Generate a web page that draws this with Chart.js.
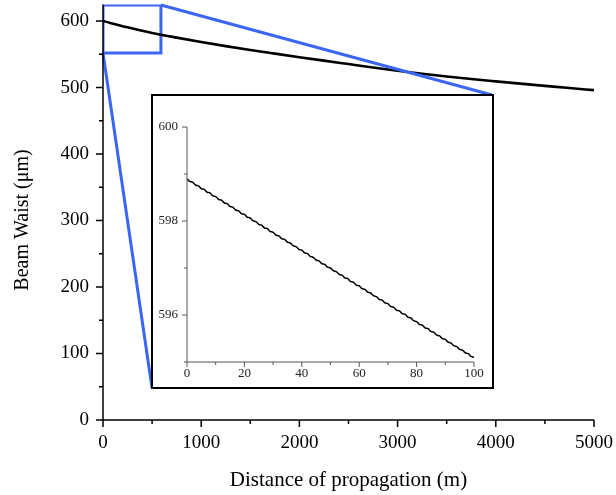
<!DOCTYPE html>
<html><head><meta charset="utf-8">
<script src="https://cdn.jsdelivr.net/npm/chart.js@4/dist/chart.umd.min.js"></script>
<style>
html,body{margin:0;padding:0;background:#fff;}
#wrap{position:relative;width:616px;height:495px;overflow:hidden;}
#main{position:absolute;left:0;top:0;}
#inset{position:absolute;left:151px;top:94px;}
</style></head><body>
<div id="wrap"><canvas id="main" width="616" height="495"></canvas><canvas id="inset" width="343" height="295"></canvas></div>
<script>
// ---- main curve ----
const distance = [0,250,500,750,1000,1250,1500,1750,2000,2250,2500,2750,3000,3250,3500,3750,4000,4250,4500,4750,5000];
const beamWaist = [600,590.5,582,575,568.5,562.3,556.5,551,545.6,540.4,535.3,530.2,525.2,520.6,516.5,512.7,509.2,505.8,502.5,499.2,496];
// ---- zoom box (data units) ----
const zoomBoxX = [0, 590];
const zoomBoxY = [552, 624];
// ---- main ticks ----
const mainXMajor = [0,1000,2000,3000,4000,5000];
const mainXMinor = [500,1500,2500,3500,4500];
const mainYMajor = [0,100,200,300,400,500,600];
const mainYMinor = [50,150,250,350,450,550];
// ---- inset curve ----
const insetDistance = [0,1,2,3,4,5,6,7,8,9,10,11,12,13,14,15,16,17,18,19,20,21,22,23,24,25,26,27,28,29,30,31,32,33,34,35,36,37,38,39,40,41,42,43,44,45,46,47,48,49,50,51,52,53,54,55,56,57,58,59,60,61,62,63,64,65,66,67,68,69,70,71,72,73,74,75,76,77,78,79,80,81,82,83,84,85,86,87,88,89,90,91,92,93,94,95,96,97,98,99,100];
const insetWaist = [598.900,598.842,598.824,598.766,598.748,598.690,598.672,598.614,598.596,598.538,
598.520,598.462,598.444,598.386,598.368,598.310,598.292,598.234,598.216,598.158,
598.140,598.082,598.064,598.006,597.988,597.930,597.912,597.854,597.836,597.778,
597.760,597.702,597.684,597.626,597.608,597.550,597.532,597.474,597.456,597.398,
597.380,597.322,597.304,597.246,597.228,597.170,597.152,597.094,597.076,597.018,
597.000,596.942,596.924,596.866,596.848,596.790,596.772,596.714,596.696,596.638,
596.620,596.562,596.544,596.486,596.468,596.410,596.392,596.334,596.316,596.258,
596.240,596.182,596.164,596.106,596.088,596.030,596.012,595.954,595.936,595.878,
595.860,595.802,595.784,595.726,595.708,595.650,595.632,595.574,595.556,595.498,
595.480,595.422,595.404,595.346,595.328,595.270,595.252,595.194,595.176,595.118,
595.100];
const insetXMajor = [0,20,40,60,80,100];
const insetXMinor = [10,30,50,70,90];
const insetYMajor = [596,598,600];
const insetYMinor = [595,597,599];

const xTitle = 'Distance of propagation (m)';
const yTitle = 'Beam Waist (\u03bcm)';
const SERIF = "'Liberation Serif', 'Times New Roman', serif";
const BLUE = '#3b66f4';
// inset frame corners in page pixels
const INSET_LEFT = 152, INSET_TOP = 95, INSET_RIGHT = 492, INSET_BOTTOM = 388;

function setTicks(major, minor){
  return function(scale){
    scale.ticks = major.concat(minor).sort((a,b)=>a-b).map(v=>({value:v}));
  };
}
function axisPlugin(cfg){
  return {
    id:'axes'+cfg.name,
    afterDraw(chart){
      const {ctx, chartArea:a, scales} = chart;
      const xs = scales.x, ys = scales.y;
      ctx.save();
      ctx.strokeStyle = cfg.color; ctx.lineWidth = cfg.width; ctx.lineCap='butt';
      ctx.beginPath();
      ctx.moveTo(a.left, a.top); ctx.lineTo(a.left, a.bottom + (cfg.cross?cfg.major:0));
      ctx.moveTo(a.left - (cfg.cross?cfg.major:0), a.bottom); ctx.lineTo(a.right, a.bottom);
      xs.ticks.forEach(t=>{
        const p = xs.getPixelForValue(t.value);
        const L = cfg.xMajor.includes(t.value) ? cfg.major : cfg.minor;
        ctx.moveTo(p, a.bottom); ctx.lineTo(p, a.bottom + L);
      });
      ys.ticks.forEach(t=>{
        const p = ys.getPixelForValue(t.value);
        const L = cfg.yMajor.includes(t.value) ? cfg.major : cfg.minor;
        ctx.moveTo(a.left, p); ctx.lineTo(a.left - L, p);
      });
      ctx.stroke();
      ctx.restore();
    }
  };
}

const mainPlugin = {
  id:'mainExtras',
  afterDatasetsDraw(chart){
    const {ctx, scales} = chart;
    const xs = scales.x, ys = scales.y;
    ctx.save();
    ctx.strokeStyle = BLUE; ctx.lineWidth = 3; ctx.lineCap = 'butt';
    ctx.beginPath();
    ctx.moveTo(xs.getPixelForValue(zoomBoxX[0]), ys.getPixelForValue(zoomBoxY[0]));
    ctx.lineTo(INSET_LEFT, INSET_BOTTOM);
    ctx.moveTo(xs.getPixelForValue(zoomBoxX[1]), ys.getPixelForValue(zoomBoxY[1]));
    ctx.lineTo(INSET_RIGHT, INSET_TOP);
    ctx.stroke();
    ctx.restore();
  },
  afterDraw(chart){
    const {ctx} = chart;
    ctx.save();
    ctx.translate(23, 220);
    ctx.rotate(-Math.PI/2);
    ctx.font = "20px " + SERIF;
    ctx.fillStyle = '#000';
    ctx.textAlign = 'center'; ctx.textBaseline = 'middle';
    ctx.fillText(yTitle, 0, 0);
    ctx.restore();
  }
};

const noGrid = {display:false, drawTicks:false, tickLength:0};

new Chart(document.getElementById('main'), {
  type:'line',
  data:{ datasets:[
    { data: distance.map((d,i)=>({x:d, y:beamWaist[i]})), borderColor:'#000', borderWidth:2.6, pointRadius:0, cubicInterpolationMode:'monotone', fill:false },
    { data: [
        {x:zoomBoxX[0], y:zoomBoxY[0]}, {x:zoomBoxX[1], y:zoomBoxY[0]},
        {x:zoomBoxX[1], y:zoomBoxY[1]}, {x:zoomBoxX[0], y:zoomBoxY[1]},
        {x:zoomBoxX[0], y:zoomBoxY[0]} ],
      borderColor:BLUE, borderWidth:3, pointRadius:0, tension:0, fill:false }
  ]},
  options:{
    responsive:false, animation:false, devicePixelRatio:1,
    layout:{ padding:{ left:0, right:22, top:4.4, bottom:0 } },
    plugins:{ legend:{display:false}, tooltip:{enabled:false} },
    scales:{
      x:{ type:'linear', min:0, max:5000,
        afterBuildTicks: setTicks(mainXMajor, mainXMinor),
        afterFit(s){ s.height = 75; s.paddingLeft = 0; s.paddingRight = 0; },
        grid:noGrid, border:{display:false},
        ticks:{ autoSkip:false, maxRotation:0, padding:12, color:'#000', font:{family:SERIF, size:19},
          callback:(v)=> mainXMajor.includes(v) ? String(v) : '' },
        title:{ display:true, text:xTitle, color:'#000', font:{family:SERIF, size:21}, padding:{top:0,bottom:2} }
      },
      y:{ type:'linear', min:0, max:625,
        afterBuildTicks: setTicks(mainYMajor, mainYMinor),
        afterFit(s){ s.width = 103; s.paddingTop = 0; s.paddingBottom = 0; },
        grid:noGrid, border:{display:false},
        ticks:{ autoSkip:false, padding:14, color:'#000', font:{family:SERIF, size:19},
          callback:(v)=> mainYMajor.includes(v) ? String(v) : '' }
      }
    }
  },
  plugins:[mainPlugin, axisPlugin({name:'main', color:'#000', width:1.5, major:7, minor:4, cross:true, xMajor:mainXMajor, yMajor:mainYMajor})]
});

const insetFrame = {
  id:'insetFrame',
  beforeDraw(chart){
    const {ctx, width, height} = chart;
    ctx.save(); ctx.fillStyle='#fff'; ctx.fillRect(0,0,width,height); ctx.restore();
  },
  afterDraw(chart){
    const {ctx, width, height} = chart;
    ctx.save(); ctx.strokeStyle='#000'; ctx.lineWidth=2;
    ctx.strokeRect(1,1,width-2,height-2); ctx.restore();
  }
};

new Chart(document.getElementById('inset'), {
  type:'line',
  data:{ datasets:[
    { data: insetDistance.map((d,i)=>({x:d, y:insetWaist[i]})), borderColor:'#000', borderWidth:1.5, pointRadius:0, tension:0.5, fill:false }
  ]},
  options:{
    responsive:false, animation:false, devicePixelRatio:1,
    layout:{ padding:{ left:0, right:20, top:33, bottom:0 } },
    plugins:{ legend:{display:false}, tooltip:{enabled:false} },
    scales:{
      x:{ type:'linear', min:0, max:100,
        afterBuildTicks: setTicks(insetXMajor, insetXMinor),
        afterFit(s){ s.height = 27; s.paddingLeft = 0; s.paddingRight = 0; },
        grid:noGrid, border:{display:false},
        ticks:{ autoSkip:false, maxRotation:0, padding:4, color:'#222', font:{family:SERIF, size:13},
          callback:(v)=> insetXMajor.includes(v) ? String(v) : '' }
      },
      y:{ type:'linear', min:595, max:600,
        afterBuildTicks: setTicks(insetYMajor, insetYMinor),
        afterFit(s){ s.width = 36; s.paddingTop = 0; s.paddingBottom = 0; },
        grid:noGrid, border:{display:false},
        ticks:{ autoSkip:false, padding:9, color:'#222', font:{family:SERIF, size:13},
          callback:(v)=> insetYMajor.includes(v) ? String(v) : '' }
      }
    }
  },
  plugins:[insetFrame, axisPlugin({name:'inset', color:'#555', width:1, major:5, minor:3, cross:false, xMajor:insetXMajor, yMajor:insetYMajor})]
});
</script>
</body></html>
